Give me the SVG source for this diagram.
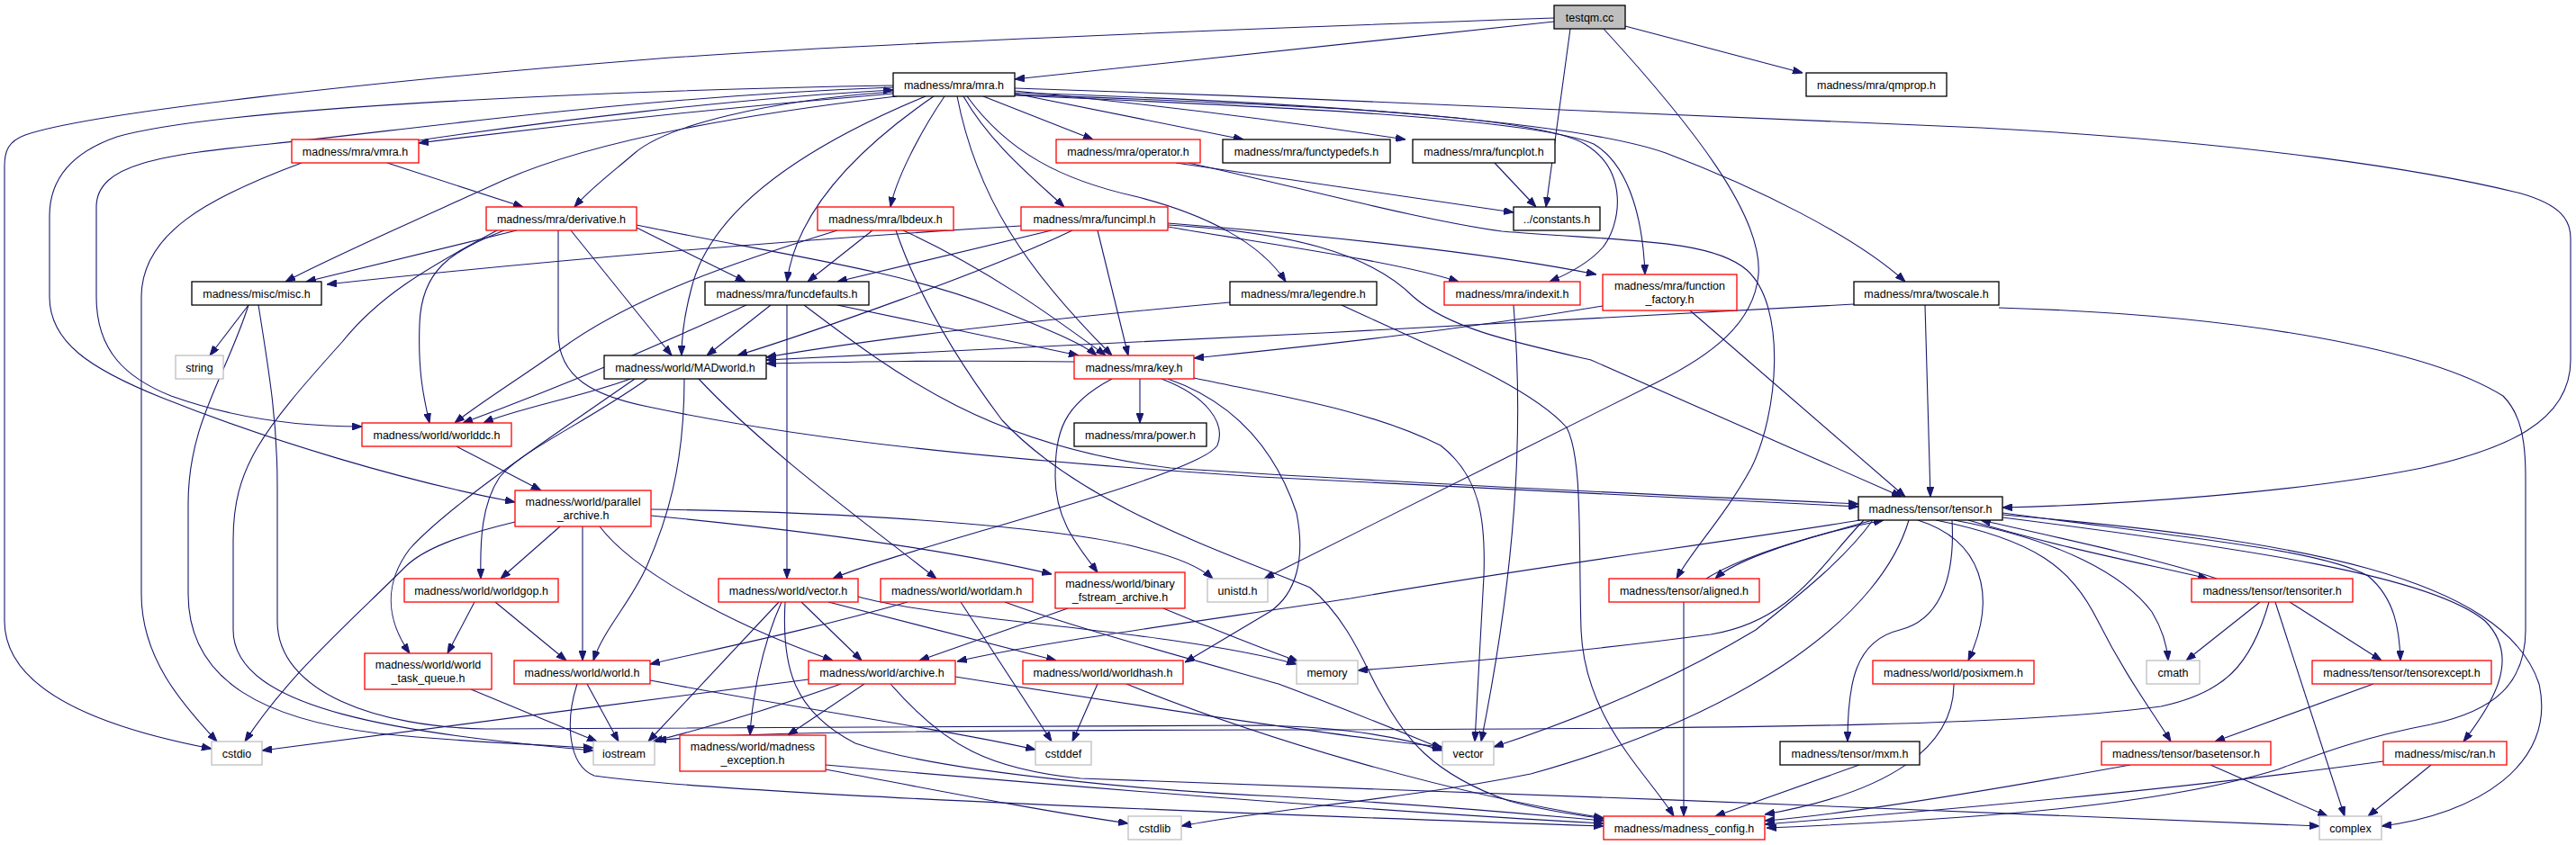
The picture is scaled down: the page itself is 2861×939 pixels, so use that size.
<svg xmlns="http://www.w3.org/2000/svg" width="2861" height="939" viewBox="0 0 2861 939">
<style>
.n rect{fill:#fff;stroke-width:1.3}
.b rect{stroke:#000}
.r rect{stroke:#ff0000}
.g rect{stroke:#bfbfbf}
.t rect{fill:#bfbfbf;stroke:#000}
text{font-family:"Liberation Sans",Arial,sans-serif;font-size:12.5px;fill:#000;text-anchor:middle}
.e path{fill:none;stroke:#191970;stroke-width:1.1;marker-end:url(#a)}
</style>
<defs>
<marker id="a" markerWidth="11" markerHeight="8" refX="11" refY="4" orient="auto" markerUnits="userSpaceOnUse">
<path d="M0,0 L11,4 L0,8 z" fill="#191970" stroke="#191970" stroke-width="1"/>
</marker>
</defs>
<rect width="2861" height="939" fill="#fff"/>
<g id="connectors" class="e">
<path d="M1726,24 L1127,88"/>
<path d="M1726,20 C1300,35 900,52 720,66 C420,90 100,125 28,150 C9,157 5,168 5,185 L5,690 C5,770 120,810 235,832"/>
<path d="M1744,32 L1717,230"/>
<path d="M1805,29 L2002,81"/>
<path d="M1781,32 C1880,140 1958,240 1953,305 C1948,360 1900,395 1840,425 L1404,643"/>
<path d="M992,104 C800,120 600,142 465,159"/>
<path d="M465,156 C600,136 820,109 992,100"/>
<path d="M992,95 C700,100 250,118 130,152 C72,172 55,205 55,240 L55,330 C55,380 100,410 180,442 C300,490 450,535 572,558"/>
<path d="M992,97 C700,108 450,145 300,160 C180,172 107,182 107,230 L107,330 C107,390 140,420 190,440 C260,465 330,474 402,474"/>
<path d="M996,107 C800,130 650,160 560,200 C450,250 370,285 317,313"/>
<path d="M992,102 C850,112 740,140 705,170 C682,190 655,210 638,230"/>
<path d="M1028,107 C900,160 790,230 768,320 C760,350 757,370 757,395"/>
<path d="M1037,107 C960,160 885,230 874,313"/>
<path d="M1049,107 C1020,150 995,200 989,230"/>
<path d="M1063,107 C1085,220 1140,300 1235,395"/>
<path d="M1070,107 C1100,160 1150,200 1182,230"/>
<path d="M1092,107 L1214,155"/>
<path d="M1127,104 L1381,155"/>
<path d="M1127,101 C1300,118 1450,138 1561,155"/>
<path d="M1074,107 C1120,170 1180,200 1260,218 C1340,238 1400,270 1428,313"/>
<path d="M1127,105 C1400,115 1700,125 1760,160 C1810,190 1800,250 1780,275 C1765,292 1740,305 1721,313"/>
<path d="M1127,106 C1400,118 1700,130 1770,160 C1812,185 1825,250 1827,305"/>
<path d="M1127,103 C1500,115 1760,138 1850,170 C1950,208 2060,262 2116,313"/>
<path d="M1127,98 C1500,110 1900,128 2200,142 C2500,158 2700,190 2800,215 C2845,228 2855,245 2855,265 L2855,400 C2855,470 2780,500 2690,520 C2550,548 2350,561 2224,564"/>
<path d="M430,181 L581,230"/>
<path d="M335,181 C230,220 157,260 157,330 L157,660 C157,730 200,780 241,824"/>
<path d="M574,256 L340,313"/>
<path d="M560,256 C500,280 468,300 466,360 C464,410 470,440 477,470"/>
<path d="M552,256 C470,300 420,330 380,380 C290,480 259,520 259,600 L259,700 C259,790 450,815 659,834"/>
<path d="M276,339 L233,395"/>
<path d="M276,339 C250,420 209,470 209,560 L209,660 C209,760 300,800 420,815 C520,825 600,828 659,831"/>
<path d="M287,339 C300,420 308,470 308,540 L308,690 C308,770 420,808 540,810 L1400,806 C1500,808 1560,820 1602,834"/>
<path d="M707,253 L828,313"/>
<path d="M707,250 C850,280 1000,300 1100,340 C1160,365 1200,380 1218,395"/>
<path d="M634,256 L746,395"/>
<path d="M620,256 L620,370 C620,420 660,440 720,452 C900,490 1100,510 1400,530 C1700,545 1900,555 2064,563"/>
<path d="M969,256 L897,313"/>
<path d="M930,256 C820,290 700,330 620,390 C570,425 530,450 505,470"/>
<path d="M1003,256 C1100,300 1180,360 1228,395"/>
<path d="M995,256 C1010,300 1040,370 1113,467 C1200,560 1350,610 1455,653 C1500,690 1520,750 1533,770 C1560,820 1590,860 1676,890 C1720,902 1750,905 1781,910"/>
<path d="M1134,251 C900,265 600,290 363,316"/>
<path d="M1168,256 L930,313"/>
<path d="M1191,256 C1100,300 900,370 819,395"/>
<path d="M1219,256 L1253,395"/>
<path d="M1297,252 C1400,270 1550,290 1620,313"/>
<path d="M1297,248 C1450,260 1650,280 1773,305"/>
<path d="M1297,250 C1430,258 1520,280 1570,330 C1610,365 1680,380 1767,400 L2112,552"/>
<path d="M856,339 L785,395"/>
<path d="M930,339 L1198,395"/>
<path d="M829,339 C760,370 650,420 514,470"/>
<path d="M874,339 L874,643"/>
<path d="M893,339 C1000,420 1100,495 1300,520 C1600,540 1900,552 2064,560"/>
<path d="M1366,336 C1100,360 950,380 851,397"/>
<path d="M1490,339 C1600,390 1700,430 1740,475 C1758,510 1753,600 1756,700 C1760,800 1830,860 1859,907"/>
<path d="M2059,338 C1700,358 1200,385 851,400"/>
<path d="M2138,339 L2144,552"/>
<path d="M2220,342 C2500,350 2700,390 2780,440 C2800,460 2805,490 2805,530 L2805,700 C2805,760 2770,790 2700,805 C2620,820 2570,840 2530,855 C2400,895 2200,910 1962,920"/>
<path d="M1780,340 C1600,370 1450,385 1326,398"/>
<path d="M1877,345 L2116,552"/>
<path d="M1681,339 C1690,450 1690,600 1645,824"/>
<path d="M1306,181 L1681,236"/>
<path d="M1320,181 C1450,210 1580,245 1668,257 C1800,268 1900,265 1940,300 C1985,340 1975,460 1945,520 C1915,575 1880,610 1862,643"/>
<path d="M1660,181 L1706,230"/>
<path d="M1266,421 L1266,470"/>
<path d="M1235,421 C1180,450 1172,480 1172,530 C1172,580 1200,610 1219,636"/>
<path d="M1290,421 C1340,440 1362,470 1352,495 C1330,530 1000,610 925,643"/>
<path d="M1297,421 C1380,450 1420,510 1440,570 C1450,620 1440,660 1410,680 L1316,736"/>
<path d="M1326,420 C1420,440 1520,455 1600,495 C1645,530 1650,580 1648,640 L1638,824"/>
<path d="M700,421 C650,440 570,455 537,470"/>
<path d="M719,421 C650,470 580,500 555,530 C535,560 533,600 534,643"/>
<path d="M705,421 C620,480 500,560 455,610 C425,650 430,690 455,726"/>
<path d="M760,421 C760,520 740,580 718,630 C700,670 670,700 659,734"/>
<path d="M776,421 C850,500 960,580 1040,643"/>
<path d="M1193,402 C1050,400 950,402 851,404"/>
<path d="M507,496 L601,545"/>
<path d="M572,580 C510,595 470,610 450,630 C390,690 320,750 272,824"/>
<path d="M622,585 L556,643"/>
<path d="M647,585 L647,734"/>
<path d="M666,585 C700,630 800,690 925,734"/>
<path d="M723,566 C1000,570 1200,590 1270,610 C1310,620 1335,632 1347,643"/>
<path d="M723,573 C900,590 1050,610 1168,638"/>
<path d="M527,669 L497,726"/>
<path d="M550,669 L629,734"/>
<path d="M523,766 L663,824"/>
<path d="M652,760 L687,824"/>
<path d="M641,760 C628,800 630,850 660,862 C800,882 1400,905 1781,918"/>
<path d="M722,756 C900,790 1050,810 1150,833"/>
<path d="M1008,669 C900,700 800,720 722,738"/>
<path d="M1067,669 L1168,824"/>
<path d="M1116,669 C1200,700 1350,740 1420,760 C1500,790 1560,815 1602,832"/>
<path d="M953,663 C1050,690 1300,700 1440,738"/>
<path d="M865,669 L720,824"/>
<path d="M868,669 C845,720 835,780 833,817"/>
<path d="M890,669 L957,734"/>
<path d="M920,669 L1173,734"/>
<path d="M872,669 C868,740 880,790 950,826 C1050,860 1300,880 1420,885 C1600,895 1700,905 1781,912"/>
<path d="M1186,676 L1021,734"/>
<path d="M1292,676 C1350,700 1400,720 1442,735"/>
<path d="M898,755 C700,780 400,820 291,834"/>
<path d="M934,760 C850,790 780,810 725,824"/>
<path d="M960,760 L875,817"/>
<path d="M989,760 C1050,830 1100,855 1200,865 C1600,880 2200,900 2576,918"/>
<path d="M1061,752 C1300,790 1500,820 1602,830"/>
<path d="M1219,760 L1191,824"/>
<path d="M1251,760 C1400,820 1600,880 1781,909"/>
<path d="M917,855 C1050,880 1150,900 1253,915"/>
<path d="M917,850 C1200,875 1500,900 1781,915"/>
<path d="M2080,578 C2000,600 1930,620 1905,643"/>
<path d="M1895,643 C1940,615 2030,590 2092,578"/>
<path d="M1870,669 L1870,907"/>
<path d="M2186,578 C2300,612 2400,630 2452,643"/>
<path d="M2462,643 C2400,622 2280,596 2200,578"/>
<path d="M2170,578 C2290,600 2360,640 2390,680 C2402,700 2407,720 2408,734"/>
<path d="M2510,669 L2428,734"/>
<path d="M2543,669 L2645,734"/>
<path d="M2527,669 L2604,907"/>
<path d="M2520,669 C2500,740 2470,770 2400,785 C2250,805 2000,810 1400,811 C1000,812 800,814 729,823"/>
<path d="M2224,570 C2450,600 2580,612 2630,640 C2660,665 2665,700 2666,734"/>
<path d="M2636,760 L2460,824"/>
<path d="M2150,578 C2260,600 2300,630 2330,690 C2360,750 2390,790 2411,824"/>
<path d="M2224,575 C2500,610 2700,640 2760,690 C2800,730 2770,780 2736,824"/>
<path d="M2224,572 C2550,600 2780,640 2820,760 C2840,850 2750,905 2645,918"/>
<path d="M2455,850 L2585,907"/>
<path d="M2700,850 L2630,907"/>
<path d="M2366,850 C2200,880 2050,905 1960,912"/>
<path d="M2647,846 C2400,880 2100,905 1960,916"/>
<path d="M2170,760 C2170,830 2100,880 1960,905"/>
<path d="M2130,578 C2200,600 2220,660 2186,734"/>
<path d="M2168,578 C2172,650 2150,690 2110,700 C2060,712 2052,760 2052,824"/>
<path d="M2080,578 C2050,620 2000,660 1950,700 C1850,760 1750,800 1659,830"/>
<path d="M2070,578 C2020,630 1990,690 1900,705 C1750,725 1600,738 1508,745"/>
<path d="M2120,578 C2090,680 1950,790 1700,860 C1550,890 1400,900 1312,918"/>
<path d="M2066,578 C1900,605 1700,630 1500,665 C1300,695 1150,715 1063,735"/>
<path d="M2065,850 L1905,907"/>
</g>
<g id="n_testqm" class="n t"><rect x="1726" y="6" width="79" height="26"/><text x="1765.5" y="23.5">testqm.cc</text></g>
<g id="n_mra" class="n b"><rect x="992" y="81" width="135" height="26"/><text x="1059.5" y="98.5">madness/mra/mra.h</text></g>
<g id="n_qmprop" class="n b"><rect x="2006" y="81" width="156" height="26"/><text x="2084" y="98.5">madness/mra/qmprop.h</text></g>
<g id="n_vmra" class="n r"><rect x="324" y="155" width="141" height="26"/><text x="394.5" y="172.5">madness/mra/vmra.h</text></g>
<g id="n_operator" class="n r"><rect x="1173" y="155" width="160" height="26"/><text x="1253" y="172.5">madness/mra/operator.h</text></g>
<g id="n_functypedefs" class="n b"><rect x="1358" y="155" width="186" height="26"/><text x="1451" y="172.5">madness/mra/functypedefs.h</text></g>
<g id="n_funcplot" class="n b"><rect x="1569" y="155" width="158" height="26"/><text x="1648" y="172.5">madness/mra/funcplot.h</text></g>
<g id="n_derivative" class="n r"><rect x="540" y="230" width="167" height="26"/><text x="623.5" y="247.5">madness/mra/derivative.h</text></g>
<g id="n_lbdeux" class="n r"><rect x="908" y="230" width="151" height="26"/><text x="983.5" y="247.5">madness/mra/lbdeux.h</text></g>
<g id="n_funcimpl" class="n r"><rect x="1134" y="230" width="163" height="26"/><text x="1215.5" y="247.5">madness/mra/funcimpl.h</text></g>
<g id="n_constants" class="n b"><rect x="1681" y="230" width="96" height="26"/><text x="1729" y="247.5">../constants.h</text></g>
<g id="n_misc" class="n b"><rect x="213" y="313" width="144" height="26"/><text x="285" y="330.5">madness/misc/misc.h</text></g>
<g id="n_funcdefaults" class="n b"><rect x="783" y="313" width="182" height="26"/><text x="874" y="330.5">madness/mra/funcdefaults.h</text></g>
<g id="n_legendre" class="n b"><rect x="1366" y="313" width="163" height="26"/><text x="1447.5" y="330.5">madness/mra/legendre.h</text></g>
<g id="n_indexit" class="n r"><rect x="1604" y="313" width="151" height="26"/><text x="1679.5" y="330.5">madness/mra/indexit.h</text></g>
<g id="n_function_factory" class="n r"><rect x="1780" y="305" width="149" height="40"/><text x="1854.5" y="321.5">madness/mra/function</text><text x="1854.5" y="336.5">_factory.h</text></g>
<g id="n_twoscale" class="n b"><rect x="2059" y="313" width="161" height="26"/><text x="2139.5" y="330.5">madness/mra/twoscale.h</text></g>
<g id="n_string" class="n g"><rect x="195" y="395" width="53" height="26"/><text x="221.5" y="412.5">string</text></g>
<g id="n_MADworld" class="n b"><rect x="671" y="395" width="180" height="26"/><text x="761" y="412.5">madness/world/MADworld.h</text></g>
<g id="n_key" class="n r"><rect x="1193" y="395" width="133" height="26"/><text x="1259.5" y="412.5">madness/mra/key.h</text></g>
<g id="n_worlddc" class="n r"><rect x="402" y="470" width="166" height="26"/><text x="485" y="487.5">madness/world/worlddc.h</text></g>
<g id="n_power" class="n b"><rect x="1193" y="470" width="147" height="26"/><text x="1266.5" y="487.5">madness/mra/power.h</text></g>
<g id="n_parallel_archive" class="n r"><rect x="572" y="545" width="151" height="40"/><text x="647.5" y="561.5">madness/world/parallel</text><text x="647.5" y="576.5">_archive.h</text></g>
<g id="n_tensor" class="n b"><rect x="2064" y="552" width="160" height="26"/><text x="2144" y="569.5">madness/tensor/tensor.h</text></g>
<g id="n_worldgop" class="n r"><rect x="449" y="643" width="171" height="26"/><text x="534.5" y="660.5">madness/world/worldgop.h</text></g>
<g id="n_vector_h" class="n r"><rect x="798" y="643" width="155" height="26"/><text x="875.5" y="660.5">madness/world/vector.h</text></g>
<g id="n_worldam" class="n r"><rect x="978" y="643" width="169" height="26"/><text x="1062.5" y="660.5">madness/world/worldam.h</text></g>
<g id="n_binary_fstream_archive" class="n r"><rect x="1172" y="636" width="144" height="40"/><text x="1244" y="652.5">madness/world/binary</text><text x="1244" y="667.5">_fstream_archive.h</text></g>
<g id="n_unistd" class="n g"><rect x="1341" y="643" width="67" height="26"/><text x="1374.5" y="660.5">unistd.h</text></g>
<g id="n_aligned" class="n r"><rect x="1787" y="643" width="167" height="26"/><text x="1870.5" y="660.5">madness/tensor/aligned.h</text></g>
<g id="n_tensoriter" class="n r"><rect x="2434" y="643" width="179" height="26"/><text x="2523.5" y="660.5">madness/tensor/tensoriter.h</text></g>
<g id="n_world_task_queue" class="n r"><rect x="405" y="726" width="141" height="40"/><text x="475.5" y="742.5">madness/world/world</text><text x="475.5" y="757.5">_task_queue.h</text></g>
<g id="n_world" class="n r"><rect x="571" y="734" width="151" height="26"/><text x="646.5" y="751.5">madness/world/world.h</text></g>
<g id="n_archive" class="n r"><rect x="898" y="734" width="163" height="26"/><text x="979.5" y="751.5">madness/world/archive.h</text></g>
<g id="n_worldhash" class="n r"><rect x="1136" y="734" width="178" height="26"/><text x="1225" y="751.5">madness/world/worldhash.h</text></g>
<g id="n_memory" class="n g"><rect x="1440" y="734" width="68" height="26"/><text x="1474" y="751.5">memory</text></g>
<g id="n_posixmem" class="n r"><rect x="2080" y="734" width="179" height="26"/><text x="2169.5" y="751.5">madness/world/posixmem.h</text></g>
<g id="n_cmath" class="n g"><rect x="2384" y="734" width="59" height="26"/><text x="2413.5" y="751.5">cmath</text></g>
<g id="n_tensorexcept" class="n r"><rect x="2568" y="734" width="199" height="26"/><text x="2667.5" y="751.5">madness/tensor/tensorexcept.h</text></g>
<g id="n_cstdio" class="n g"><rect x="235" y="824" width="56" height="26"/><text x="263" y="841.5">cstdio</text></g>
<g id="n_iostream" class="n g"><rect x="659" y="824" width="68" height="26"/><text x="693" y="841.5">iostream</text></g>
<g id="n_madness_exception" class="n r"><rect x="755" y="817" width="162" height="40"/><text x="836" y="833.5">madness/world/madness</text><text x="836" y="848.5">_exception.h</text></g>
<g id="n_cstddef" class="n g"><rect x="1150" y="824" width="62" height="26"/><text x="1181" y="841.5">cstddef</text></g>
<g id="n_vector" class="n g"><rect x="1602" y="824" width="57" height="26"/><text x="1630.5" y="841.5">vector</text></g>
<g id="n_mxm" class="n b"><rect x="1977" y="824" width="155" height="26"/><text x="2054.5" y="841.5">madness/tensor/mxm.h</text></g>
<g id="n_basetensor" class="n r"><rect x="2334" y="824" width="188" height="26"/><text x="2428" y="841.5">madness/tensor/basetensor.h</text></g>
<g id="n_ran" class="n r"><rect x="2647" y="824" width="137" height="26"/><text x="2715.5" y="841.5">madness/misc/ran.h</text></g>
<g id="n_cstdlib" class="n g"><rect x="1253" y="907" width="59" height="26"/><text x="1282.5" y="924.5">cstdlib</text></g>
<g id="n_madness_config" class="n r"><rect x="1781" y="907" width="179" height="26"/><text x="1870.5" y="924.5">madness/madness_config.h</text></g>
<g id="n_complex" class="n g"><rect x="2576" y="907" width="69" height="26"/><text x="2610.5" y="924.5">complex</text></g>
</svg>
